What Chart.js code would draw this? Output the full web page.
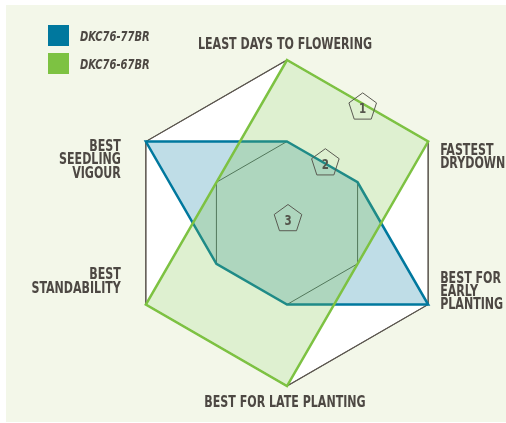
<!DOCTYPE html>
<html><head><meta charset="utf-8">
<script src="https://cdn.jsdelivr.net/npm/chart.js@4.4.0/dist/chart.umd.min.js"></script>
<style>
html,body{margin:0;padding:0;background:#fff;}
#wrap{position:relative;width:506px;height:423px;overflow:hidden;}
#panel{position:absolute;left:6px;top:5px;width:500px;height:417px;background:#f3f7e9;}
#c{position:absolute;left:0;top:0;}
.lg{position:absolute;left:48px;height:21px;display:flex;align-items:center;font:italic bold 14px "DejaVu Sans Condensed","DejaVu Sans",sans-serif;color:#4d4843;white-space:nowrap;}
.sw{width:21px;height:21px;margin-right:11px;flex:none;}
.tx{display:inline-block;transform:scaleX(0.79);transform-origin:left center;}
</style></head>
<body><div id="wrap"><div id="panel"></div><canvas id="c" width="506" height="423"></canvas><div id="legend"></div></div>
<script>
const categories = [["LEAST DAYS TO FLOWERING"],["FASTEST","DRYDOWN"],["BEST FOR","EARLY","PLANTING"],["BEST FOR LATE PLANTING"],["BEST","STANDABILITY"],["BEST","SEEDLING","VIGOUR"]];
const seriesNames = ["DKC76-77BR","DKC76-67BR"];
const dkc7677 = [2,2,1,2,2,1];
const dkc7667 = [1,1,2,1,1,2];
const tickLabels = [1,2,3];

const colors = ['#00789e','#7dc242'];
const fills = ['rgba(0,120,158,0.25)','rgba(125,194,66,0.25)'];

// legend
const lg = document.getElementById('legend');
seriesNames.forEach((n,i)=>{
  const d=document.createElement('div'); d.className='lg'; d.style.top=(25+i*28)+'px';
  d.innerHTML='<span class="sw" style="background:'+colors[i]+'"></span><span class="tx">'+n+'</span>';
  lg.appendChild(d);
});

const FONT = 'bold 15px "DejaVu Sans Condensed","DejaVu Sans",sans-serif';
const SQUEEZE = 0.82;
const labelStyle = [
 {align:'center', dx:-2, dy:-11, lh:13},
 {align:'left', dx:12, dy:13, lh:13},
 {align:'left', dx:12, dy:-22, lh:13},
 {align:'center', dx:-2, dy:21, lh:13},
 {align:'right', dx:-25, dy:-26, lh:14.5},
 {align:'right', dx:-25, dy:9, lh:13.5}
];

function squeezedText(ctx,t,x,y){
  ctx.save(); ctx.translate(x,y); ctx.scale(SQUEEZE,1); ctx.fillText(t,0,0); ctx.restore();
}
function hexPath(ctx,s,n){
  ctx.beginPath();
  for(let i=0;i<n;i++){const p=s.getPointPosition(i,s.drawingArea); i?ctx.lineTo(p.x,p.y):ctx.moveTo(p.x,p.y);}
  ctx.closePath();
}

const hexPlugin = {
  id:'hexBg',
  beforeDraw(chart){
    const s=chart.scales.r, ctx=chart.ctx, n=chart.data.labels.length;
    ctx.save(); hexPath(ctx,s,n); ctx.fillStyle='#ffffff'; ctx.fill(); ctx.restore();
  },
  beforeDatasetsDraw(chart){
    const s=chart.scales.r, ctx=chart.ctx, n=chart.data.labels.length;
    ctx.save(); hexPath(ctx,s,n); ctx.strokeStyle='#5c5750'; ctx.lineWidth=1.2; ctx.stroke(); ctx.restore();
  },
  afterDatasetsDraw(chart){
    const s=chart.scales.r, ctx=chart.ctx;
    ctx.save();
    const ang=33.8*Math.PI/180;
    ctx.font='bold 14px "DejaVu Sans Condensed","DejaVu Sans",sans-serif';
    ctx.textAlign='center'; ctx.textBaseline='middle';
    tickLabels.forEach(v=>{
      const d=s.getDistanceFromCenterForValue(v)*0.824;
      const cx=s.xCenter+1+d*Math.sin(ang), cy=s.yCenter-4-d*Math.cos(ang);
      const R=14.5;
      ctx.beginPath();
      for(let k=0;k<5;k++){const a=-Math.PI/2+k*2*Math.PI/5; const x=cx+R*Math.cos(a), y=cy+R*Math.sin(a); k?ctx.lineTo(x,y):ctx.moveTo(x,y);}
      ctx.closePath(); ctx.strokeStyle='#5a5a52'; ctx.lineWidth=1; ctx.stroke();
      ctx.fillStyle='#55564c'; squeezedText(ctx,String(v),cx,cy+2);
    });
    ctx.restore();
  },
  afterDraw(chart){
    const s=chart.scales.r, ctx=chart.ctx;
    ctx.save(); ctx.font=FONT; ctx.fillStyle='#4d4843'; ctx.textBaseline='alphabetic';
    chart.data.labels.forEach((lines,i)=>{
      const p=s.getPointPosition(i,s.drawingArea), st=labelStyle[i];
      ctx.textAlign=st.align;
      lines.forEach((t,k)=>squeezedText(ctx,t,p.x+st.dx,p.y+st.dy+k*st.lh));
    });
    ctx.restore();
  }
};

new Chart(document.getElementById('c'),{
  type:'radar',
  data:{
    labels:categories,
    datasets:[
      {label:seriesNames[0],data:dkc7677,borderColor:colors[0],backgroundColor:fills[0],borderWidth:2.5,pointRadius:0,fill:'start',tension:0,order:1},
      {label:seriesNames[1],data:dkc7667,borderColor:colors[1],backgroundColor:fills[1],borderWidth:2.5,pointRadius:0,fill:'start',tension:0,order:0}
    ]
  },
  options:{
    responsive:false, animation:false, devicePixelRatio:1,
    layout:{padding:{left:124,right:56,top:60,bottom:37}},
    plugins:{legend:{display:false},tooltip:{enabled:false}},
    scales:{r:{
      min:1,max:3,reverse:true,
      ticks:{display:false,stepSize:1},
      grid:{color:'#5c5750',lineWidth:1},
      angleLines:{display:false},
      pointLabels:{display:false}
    }}
  },
  plugins:[hexPlugin]
});
</script></body></html>
